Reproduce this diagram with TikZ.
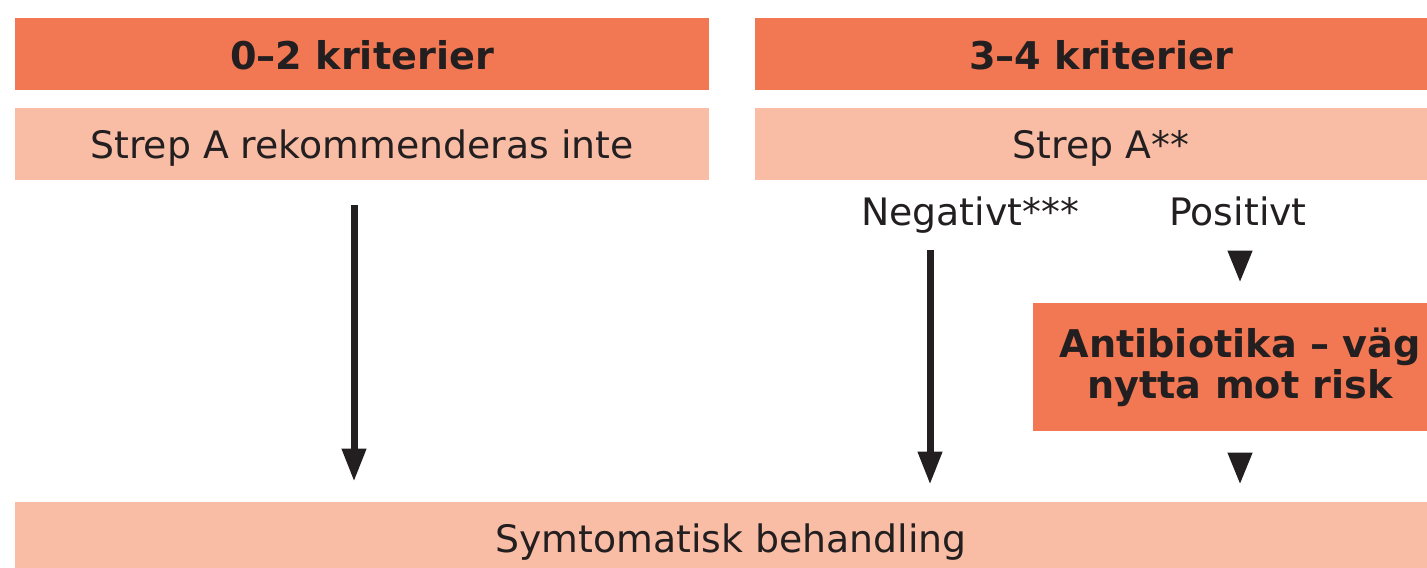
\documentclass[tikz,border=0pt]{standalone}
\usepackage{fontspec}
\setmainfont{DejaVu Sans}
\usetikzlibrary{arrows.meta,calc}
\definecolor{dark}{HTML}{F27853}
\definecolor{light}{HTML}{F9BDA5}
\definecolor{ink}{HTML}{231F20}
\begin{document}
\begin{tikzpicture}[x=0.5pt,y=-0.5pt,
  every node/.style={text=ink,font=\fontsize{18.9}{20}\selectfont},
  head/.style={fill=dark,minimum height=36pt,inner sep=0pt,text height=16pt,text depth=0pt,font=\fontsize{19.1}{20}\selectfont\bfseries},
  sub/.style={fill=light,minimum height=36pt,inner sep=0pt,text height=14.5pt,text depth=0.5pt},
  lbl/.style={inner sep=0pt,anchor=base},
  arr/.style={draw=ink,line width=3.5pt,-{Triangle[width=11.5pt,length=16.5pt]}},
  tri/.style={draw=ink,line width=3.5pt,-{Triangle[width=11.5pt,length=16pt]}}]
\useasboundingbox (0,0) rectangle (1427,567);
\clip (0,0) rectangle (1427,567);
\node[head,minimum width=347pt] (h1) at (362,54) {0–2 kriterier};
\node[head,minimum width=346pt] (h2) at (1101,54) {3–4 kriterier};
\node[sub,minimum width=347pt] (s1) at (362,144) {Strep A rekommenderas inte};
\node[sub,minimum width=346pt] (s2) at (1101,144) {Strep A**};
\node[lbl] (neg) at (970,225) {Negativt***};
\node[lbl] (pos) at (1238,225) {Positivt};
\node[fill=dark,minimum width=207pt,minimum height=64pt,inner sep=0pt,align=center,
      font=\fontsize{19.1}{20.5}\selectfont\bfseries] (ab) at (1240,367) {Antibiotika – väg\\nytta mot risk};
\node[sub,minimum width=716pt,minimum height=37pt,text height=14pt,text depth=1pt] (sym) at (731,539) {Symtomatisk behandling};
\coordinate (xa) at (354,0);
\coordinate (xb) at (930,0);
\coordinate (xc) at (1240,0);
\draw[arr] ([yshift=-12.5pt]s1.south -| xa) -- ([yshift=10pt]sym.north -| xa);
\draw[arr] ([yshift=-35pt]s2.south -| xb) -- ([yshift=8.5pt]sym.north -| xb);
\draw[tri] ([yshift=26pt]ab.north -| xc) -- ([yshift=10pt]ab.north -| xc);
\draw[tri] ([yshift=24pt]sym.north -| xc) -- ([yshift=8.5pt]sym.north -| xc);
\end{tikzpicture}
\end{document}
